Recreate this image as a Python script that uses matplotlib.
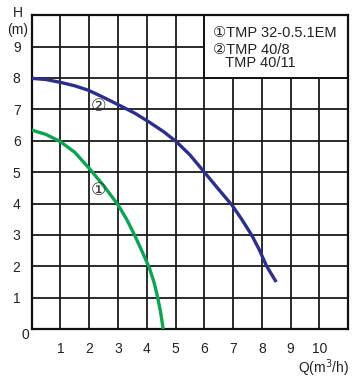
import matplotlib
matplotlib.use("Agg")
import matplotlib.pyplot as plt
from matplotlib.patches import Rectangle

plt.rcParams['font.family'] = ['Liberation Sans', 'DejaVu Sans']

# Curve 2: TMP 40/8, TMP 40/11 (blue)
q_blue = [0, 0.5, 1.0, 1.5, 1.97, 2.5, 3.07, 3.6, 4.11, 4.6, 5.04, 5.5, 6.02, 6.5, 6.97, 7.3, 7.65, 7.9, 8.17, 8.5]
h_blue = [7.99, 7.95, 7.86, 7.75, 7.61, 7.38, 7.12, 6.87, 6.58, 6.28, 5.96, 5.55, 4.98, 4.45, 3.94, 3.5, 2.99, 2.55, 2.0, 1.5]
# Curve 1: TMP 32-0.5.1EM (green)
q_green = [0, 0.5, 1.0, 1.5, 2.0, 2.5, 3.0, 3.3, 3.59, 3.85, 4.09, 4.25, 4.37, 4.48, 4.57]
h_green = [6.34, 6.2, 5.97, 5.63, 5.12, 4.57, 3.96, 3.5, 2.97, 2.45, 1.95, 1.5, 1.05, 0.55, 0.0]

x_ticks = [1, 2, 3, 4, 5, 6, 7, 8, 9, 10]
y_ticks = [1, 2, 3, 4, 5, 6, 7, 8, 9]
legend_lines = ["\u2460TMP 32-0.5.1EM", "\u2461TMP 40/8", "   TMP 40/11"]

fig = plt.figure(figsize=(3.6, 3.8), dpi=100)
ax = fig.add_axes([0.088, 0.134, 0.879, 0.826])
ax.set_xlim(0, 11)
ax.set_ylim(0, 10)

for s in ax.spines.values():
    s.set_linewidth(1.6)
    s.set_color('#111111')
ax.set_xticks(x_ticks, [str(v) for v in x_ticks])
ax.set_xticks(list(range(0, 12)), minor=True)
ax.set_yticks(y_ticks, [str(v) for v in y_ticks])
ax.set_yticks(list(range(0, 11)), minor=True)
ax.grid(True, which='both', color='#1a1a1a', lw=1.3)
ax.set_axisbelow(True)
ax.tick_params(which='both', length=0, labelsize=10, colors='#222222')
ax.tick_params(axis='x', pad=9)
ax.tick_params(axis='y', pad=8)

ax.plot(q_blue, h_blue, color='#2b2f8e', lw=2.4, solid_capstyle='butt',
        solid_joinstyle='round', zorder=3)
ax.plot(q_green, h_green, color='#0ba552', lw=2.4, solid_capstyle='butt',
        solid_joinstyle='round', zorder=3)

ax.add_patch(Rectangle((6, 8), 5, 2, facecolor='white', edgecolor='#111111', lw=1.4, zorder=2.5))
ax.text(6.3, 9.42, legend_lines[0], fontsize=10.5, va='center', ha='left', color='#222222', zorder=4)
ax.text(6.3, 8.88, legend_lines[1], fontsize=10.5, va='center', ha='left', color='#222222', zorder=4)
ax.text(6.3, 8.47, legend_lines[2], fontsize=10.5, va='center', ha='left', color='#222222', zorder=4)

ax.text(2.33, 4.4, "\u2460", fontsize=12.5, ha='center', va='center', color='#333333', zorder=4)
ax.text(2.33, 7.1, "\u2461", fontsize=12.5, ha='center', va='center', color='#333333', zorder=4)

fig.text(18/360, 1 - 13/380, "H", fontsize=10, ha='center', va='center', color='#222222')
fig.text(18/360, 1 - 30/380, "(m)", fontsize=10, ha='center', va='center', color='#222222')
fig.text(25/360, 1 - 335/380, "0", fontsize=10, ha='center', va='center', color='#222222')
fig.text(349/360, 1 - 368/380, "Q(m$^3$/h)", fontsize=10, ha='right', va='center', color='#222222')

fig.savefig("out.png", dpi=100)
